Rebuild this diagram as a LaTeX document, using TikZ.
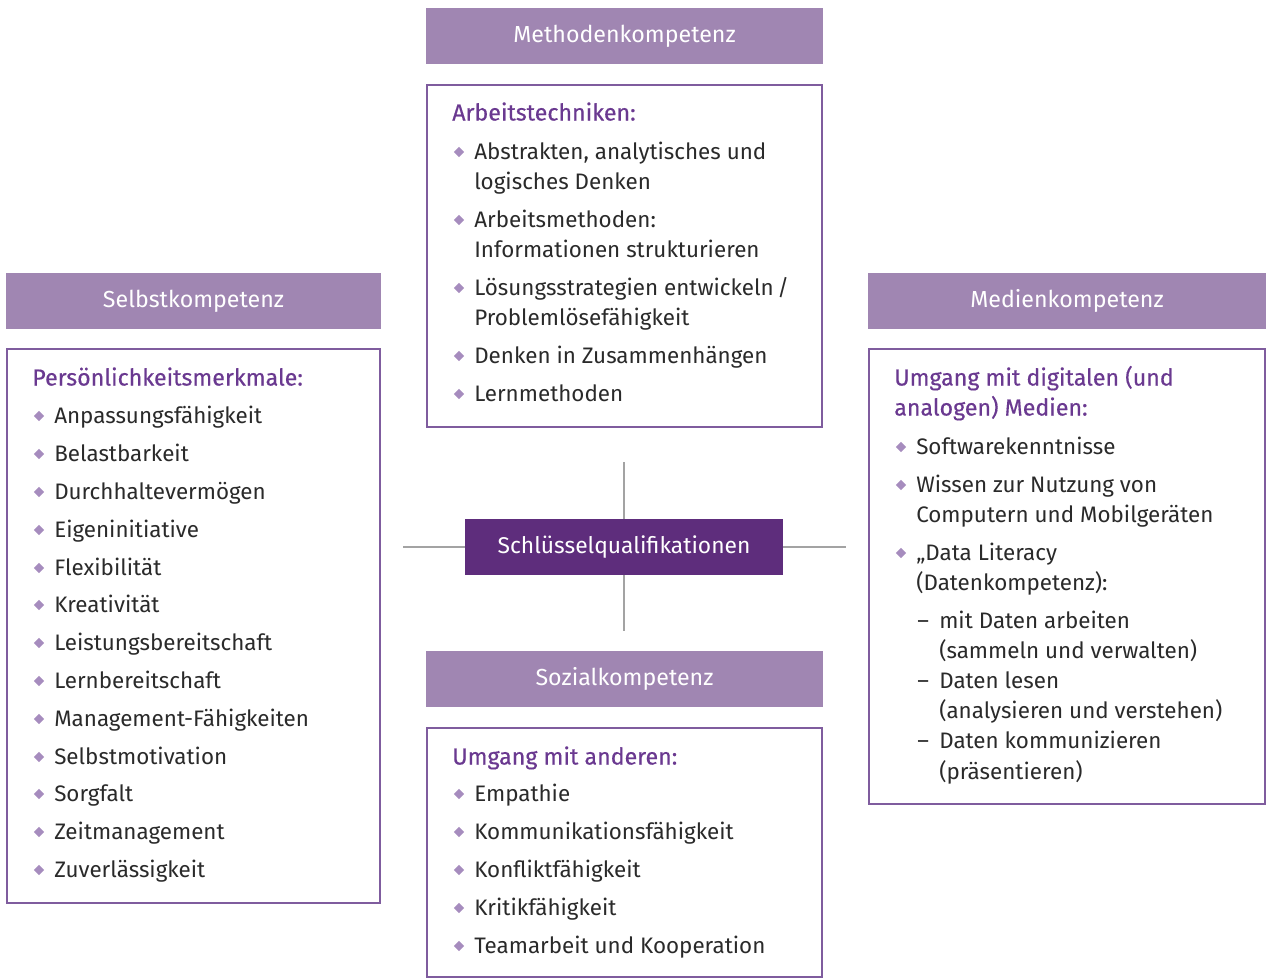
\documentclass[tikz,border=0pt]{standalone}
\usepackage{fontspec}
\setmainfont{Fira Sans}
\newfontfamily\ttlfont[FakeBold=0.45]{Fira Sans}
\usetikzlibrary{shapes.geometric}
\definecolor{hdr}{HTML}{A086B2}
\definecolor{brd}{HTML}{7F5C9E}
\definecolor{ttl}{HTML}{6A3990}
\definecolor{ctr}{HTML}{5E2D7C}
\definecolor{bul}{HTML}{A68CBE}
\definecolor{txt}{HTML}{2A2A2A}
\definecolor{lnc}{HTML}{A3A3A3}
\newcommand\itemfs{\fontsize{16.8}{19}\selectfont}
\newcommand\ttlfs{\fontsize{17.4}{19}\selectfont}
\newcommand\bitem[4]{\node[bulletmark] (#1b) at (#2,#3) {}; \node[itm] (#1) at (#2+15,#3+7.5) {#4};}
\newcommand\citem[4]{\node[itm] (#1) at (#2+15,#3+7.5) {#4};}
\newcommand\ditem[4]{\node[itm] (#1d) at (#2+16,#3+7.5) {–}; \node[itm] (#1) at (#2+38,#3+7.5) {#4};}
\newcommand\ttlitem[4]{\node[ttlstyle] (#1) at (#2,#3+7.5) {#4};}
\begin{document}
\begin{tikzpicture}[x=0.75pt,y=-0.75pt,
  hdrbox/.style={fill=hdr, draw=none, text=white, font=\fontsize{17.4}{19}\selectfont, inner sep=0, minimum height=42pt},
  panel/.style={draw=brd, line width=1.9pt, fill=none, inner sep=0},
  itm/.style={anchor=base west, inner sep=0, text=txt, font=\itemfs},
  ttlstyle/.style={anchor=base west, inner sep=0, text=ttl, font=\ttlfont\ttlfs},
  bulletmark/.style={diamond, fill=bul, inner sep=0, minimum width=8pt, minimum height=8pt},
  conn/.style={draw=lnc, line width=1.6pt},
  centerbox/.style={fill=ctr, text=white, font=\fontsize{17.1}{19}\selectfont, inner sep=0, minimum width=238.5pt, minimum height=42pt}]
\useasboundingbox (0,0) rectangle (1271,978);

% headers
\node[hdrbox, minimum width=297.75pt] (hm) at (624.5,36) {Methodenkompetenz};
\node[hdrbox, minimum width=281.25pt] (hs) at (193.5,301) {Selbstkompetenz};
\node[hdrbox, minimum width=298.5pt] (hd) at (1067,301) {Medienkompetenz};
\node[hdrbox, minimum width=297.75pt] (hz) at (624.5,679) {Sozialkompetenz};

% panels
\node[panel, minimum width=296.25pt, minimum height=256.5pt] (pm) at (624.5,256) {};
\node[panel, minimum width=279.75pt, minimum height=415.5pt] (ps) at (193.5,626) {};
\node[panel, minimum width=297pt, minimum height=341.25pt] (pd) at (1067,576.5) {};
\node[panel, minimum width=296.25pt, minimum height=186.75pt] (pz) at (624.5,852.5) {};

% center
\node[centerbox] (c) at (624,547) {Schlüsselqualifikationen};
\coordinate (cn) at (624,462);
\coordinate (cs) at (624,631);
\coordinate (cw) at (403,547);
\coordinate (ce) at (846,547);
\draw[conn] (c.north) -- (cn);
\draw[conn] (c.south) -- (cs);
\draw[conn] (c.west) -- (cw);
\draw[conn] (c.east) -- (ce);

% Methodenkompetenz
\ttlitem{mt}{452}{113}{Arbeitstechniken:}
\bitem{m1}{459}{152}{Abstrakten, analytisches und}
\citem{m1a}{459}{182}{logisches Denken}
\bitem{m2}{459}{220}{Arbeitsmethoden:}
\citem{m2a}{459}{250}{Informationen strukturieren}
\bitem{m3}{459}{288}{Lösungsstrategien entwickeln\,/}
\citem{m3a}{459}{318}{Problemlösefähigkeit}
\bitem{m4}{459}{356}{Denken in Zusammenhängen}
\bitem{m5}{459}{394}{Lernmethoden}

% Selbstkompetenz
\ttlitem{st}{32}{378}{Persönlichkeitsmerkmale:}
\bitem{s1}{39}{416}{Anpassungsfähigkeit}
\bitem{s2}{39}{454}{Belastbarkeit}
\bitem{s3}{39}{492}{Durchhaltevermögen}
\bitem{s4}{39}{530}{Eigeninitiative}
\bitem{s5}{39}{568}{Flexibilität}
\bitem{s6}{39}{605}{Kreativität}
\bitem{s7}{39}{643}{Leistungsbereitschaft}
\bitem{s8}{39}{681}{Lernbereitschaft}
\bitem{s9}{39}{719}{Management-Fähigkeiten}
\bitem{s10}{39}{757}{Selbstmotivation}
\bitem{s11}{39}{794}{Sorgfalt}
\bitem{s12}{39}{832}{Zeitmanagement}
\bitem{s13}{39}{870}{Zuverlässigkeit}

% Medienkompetenz
\ttlitem{dt}{894}{378}{Umgang mit digitalen (und}
\ttlitem{dta}{894}{408}{analogen) Medien:}
\bitem{d1}{901}{447}{Softwarekenntnisse}
\bitem{d2}{901}{485}{Wissen zur Nutzung von}
\citem{d2a}{901}{515}{Computern und Mobilgeräten}
\bitem{d3}{901}{553}{„Data Literacy}
\citem{d3a}{901}{583}{(Datenkompetenz):}
\ditem{e1}{901}{621}{mit Daten arbeiten}
\node[itm] (e1a) at (939,651+7.5) {(sammeln und verwalten)};
\ditem{e2}{901}{681}{Daten lesen}
\node[itm] (e2a) at (939,711+7.5) {(analysieren und verstehen)};
\ditem{e3}{901}{741}{Daten kommunizieren}
\node[itm] (e3a) at (939,772+7.5) {(präsentieren)};

% Sozialkompetenz
\ttlitem{zt}{452}{757}{Umgang mit anderen:}
\bitem{z1}{459}{794}{Empathie}
\bitem{z2}{459}{832}{Kommunikationsfähigkeit}
\bitem{z3}{459}{870}{Konfliktfähigkeit}
\bitem{z4}{459}{908}{Kritikfähigkeit}
\bitem{z5}{459}{946}{Teamarbeit und Kooperation}
\end{tikzpicture}
\end{document}
